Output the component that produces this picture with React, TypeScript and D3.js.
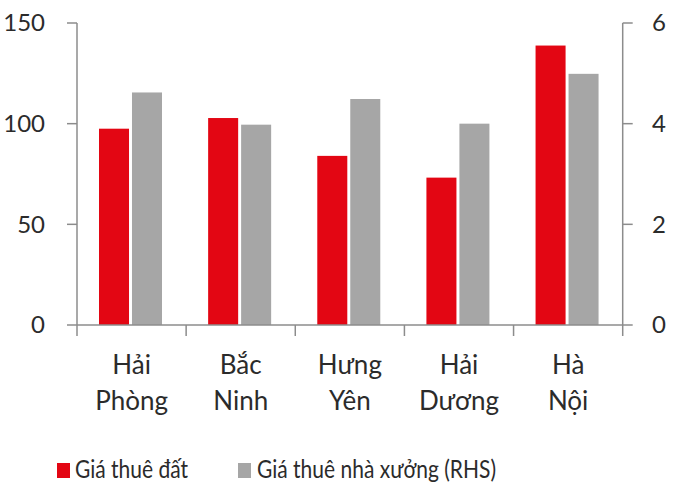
import React from "react";
import * as d3 from "d3";

// Tỉnh / thành phố
const categories = ["Hải Phòng", "Bắc Ninh", "Hưng Yên", "Hải Dương", "Hà Nội"];
// Giá thuê đất (trục trái)
const landRent = [97.5, 102.8, 84, 73.2, 138.8];
// Giá thuê nhà xưởng (trục phải, RHS)
const factoryRent = [4.62, 3.98, 4.49, 4.0, 4.99];
const leftTicks = [0, 50, 100, 150];
const rightTicks = [0, 2, 4, 6];
const seriesNames = ["Giá thuê đất", "Giá thuê nhà xưởng (RHS)"];

const RED = "#E30613";
const GRAY = "#A6A6A6";
const AXIS = "#8C8C8C";
const TEXT = "#2b2b2b";
const FONT = "Lato, 'Open Sans', sans-serif";

const W = 679;
const H = 494;
const left = 77;
const right = 622.7;
const top = 23;
const bottom = 325;

const App: React.FC = () => {
  const x0 = d3.scaleBand<string>().domain(categories).range([left, right]).padding(0);
  const x1 = d3.scaleBand<string>().domain(["land", "factory"]).range([22, 85]).paddingInner(0.09);
  const yL = d3.scaleLinear().domain([0, 150]).range([bottom, top]);
  const yR = d3.scaleLinear().domain([0, 6]).range([bottom, top]);

  const tickXs = [...categories.map((c) => x0(c) as number), right];

  return (
    <svg
      width={W}
      height={H}
      style={{ position: "absolute", left: 0, top: 0, background: "#fff" }}
      fontFamily={FONT}
    >
      {/* cột */}
      {categories.map((c, i) => {
        const bx = x0(c) as number;
        return (
          <g key={c}>
            <rect
              x={bx + (x1("land") as number)}
              y={yL(landRent[i])}
              width={x1.bandwidth()}
              height={yL(0) - yL(landRent[i])}
              fill={RED}
            />
            <rect
              x={bx + (x1("factory") as number)}
              y={yR(factoryRent[i])}
              width={x1.bandwidth()}
              height={yR(0) - yR(factoryRent[i])}
              fill={GRAY}
            />
          </g>
        );
      })}

      {/* trục */}
      <g stroke={AXIS} strokeWidth={1.5} fill="none">
        <line x1={left} x2={left} y1={top} y2={bottom} />
        <line x1={right} x2={right} y1={top} y2={bottom} />
        <line x1={left} x2={right} y1={bottom} y2={bottom} />
        {leftTicks.map((t) => (
          <line key={"l" + t} x1={left - 10} x2={left} y1={yL(t)} y2={yL(t)} />
        ))}
        {rightTicks.map((t) => (
          <line key={"r" + t} x1={right} x2={right + 10} y1={yR(t)} y2={yR(t)} />
        ))}
        {tickXs.map((x, i) => (
          <line key={"x" + i} x1={x} x2={x} y1={bottom} y2={bottom + 11} />
        ))}
      </g>

      {/* nhãn trục */}
      <g fontSize={24} fill={TEXT}>
        {leftTicks.map((t) => (
          <text key={"lt" + t} x={45} y={yL(t)} dy="0.35em" textAnchor="end">
            {t}
          </text>
        ))}
        {rightTicks.map((t) => (
          <text key={"rt" + t} x={652} y={yR(t)} dy="0.35em" textAnchor="start">
            {t}
          </text>
        ))}
      </g>
      <g fontSize={26} fill={TEXT}>
        {categories.map((c) => {
          const cx = (x0(c) as number) + x0.bandwidth() / 2;
          const [a, ...rest] = c.split(" ");
          return (
            <text key={"c" + c} x={cx} textAnchor="middle">
              <tspan x={cx} y={374}>{a}</tspan>
              <tspan x={cx} y={410}>{rest.join(" ")}</tspan>
            </text>
          );
        })}
      </g>

      {/* chú thích */}
      <g fontSize={25} fill={TEXT}>
        <rect x={57} y={463} width={13} height={15} fill={RED} />
        <text transform="translate(75,478) scale(0.84,1)">{seriesNames[0]}</text>
        <rect x={238} y={463} width={13} height={15} fill={GRAY} />
        <text transform="translate(257,478) scale(0.84,1)">{seriesNames[1]}</text>
      </g>
    </svg>
  );
};

export default App;
